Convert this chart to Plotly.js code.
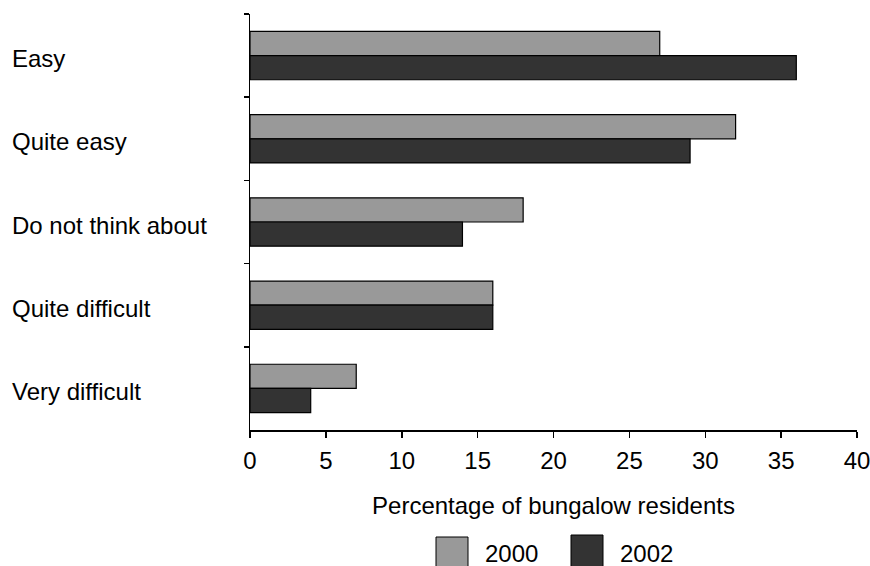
<!DOCTYPE html>
<html>
<head>
<meta charset="utf-8">
<script src="https://cdn.plot.ly/plotly-3.0.1.min.js"></script>
<style>
html,body{margin:0;padding:0;background:#fff;}
#chart{width:870px;height:566px;}
</style>
</head>
<body>
<div id="chart"></div>
<script>
var categories = ["Easy", "Quite easy", "Do not think about", "Quite difficult", "Very difficult"];
var values2000 = [27, 32, 18, 16, 7];
var values2002 = [36, 29, 14, 16, 4];
var seriesNames = ["2000", "2002"];
var xTickVals = [0, 5, 10, 15, 20, 25, 30, 35, 40];
var xTitle = "Percentage of bungalow residents";

var FONT = "'Liberation Sans', Arial, Helvetica, sans-serif";
var FS = 24;
var colors = ["#999999", "#333333"];

// plot area geometry in pixels
var W = 870, H = 566;
var L = 250, R = 857, T = 14, B = 430;
function px(x) { return (x - L) / (R - L); }
function py(y) { return (B - y) / (B - T); }

var traces = [values2000, values2002].map(function (vals, i) {
  return {
    type: "bar",
    orientation: "h",
    name: seriesNames[i],
    y: categories,
    x: vals,
    marker: { color: colors[i], line: { color: "#000000", width: 1.2 } },
    hoverinfo: "x+y+name"
  };
});

var annotations = categories.map(function (c) {
  return {
    xref: "paper", yref: "y", x: px(10), y: c,
    xanchor: "left", yanchor: "middle", yshift: -3,
    text: c, showarrow: false,
    font: { family: FONT, size: FS, color: "#000" }
  };
});

// legend labels
var legendBoxes = [[436, 468, 537], [571, 603, 535]];
var legendTextX = [483, 618];
seriesNames.forEach(function (n, i) {
  annotations.push({
    xref: "paper", yref: "paper", x: px(legendTextX[i]), y: py(553),
    xanchor: "left", yanchor: "middle", text: n, showarrow: false,
    font: { family: FONT, size: FS, color: "#000" }
  });
});

var shapes = legendBoxes.map(function (b, i) {
  return {
    type: "rect", xref: "paper", yref: "paper",
    x0: px(b[0]), x1: px(b[1]), y0: py(b[2]), y1: py(570),
    fillcolor: colors[i], line: { color: "#000", width: 1 }
  };
});

var layout = {
  width: W, height: H,
  margin: { l: L, r: W - R, t: T, b: H - B, pad: 0 },
  paper_bgcolor: "#ffffff",
  plot_bgcolor: "#ffffff",
  showlegend: false,
  barmode: "group",
  bargap: 0.42,
  bargroupgap: 0,
  font: { family: FONT, size: FS, color: "#000" },
  xaxis: {
    range: [0, 40],
    tickvals: xTickVals,
    ticktext: xTickVals.map(String),
    ticks: "outside", ticklen: 6, tickwidth: 1.5, tickcolor: "#000",
    ticklabeloverflow: "allow",
    ticklabelstandoff: 3,
    showline: true, linecolor: "#000", linewidth: 1.5,
    showgrid: false, zeroline: false,
    tickfont: { family: FONT, size: FS, color: "#000" },
    title: { text: xTitle, font: { family: FONT, size: FS, color: "#000" }, standoff: 24 },
    fixedrange: true
  },
  yaxis: {
    type: "category",
    categoryorder: "array",
    categoryarray: categories,
    autorange: "reversed",
    ticks: "outside", ticklen: 5, tickwidth: 1.5, tickcolor: "#000",
    tickson: "boundaries",
    showticklabels: false,
    showline: true, linecolor: "#000", linewidth: 1.5,
    showgrid: false, zeroline: false,
    fixedrange: true
  },
  annotations: annotations,
  shapes: shapes
};

Plotly.newPlot("chart", traces, layout, { displayModeBar: false, staticPlot: true });
</script>
</body>
</html>
